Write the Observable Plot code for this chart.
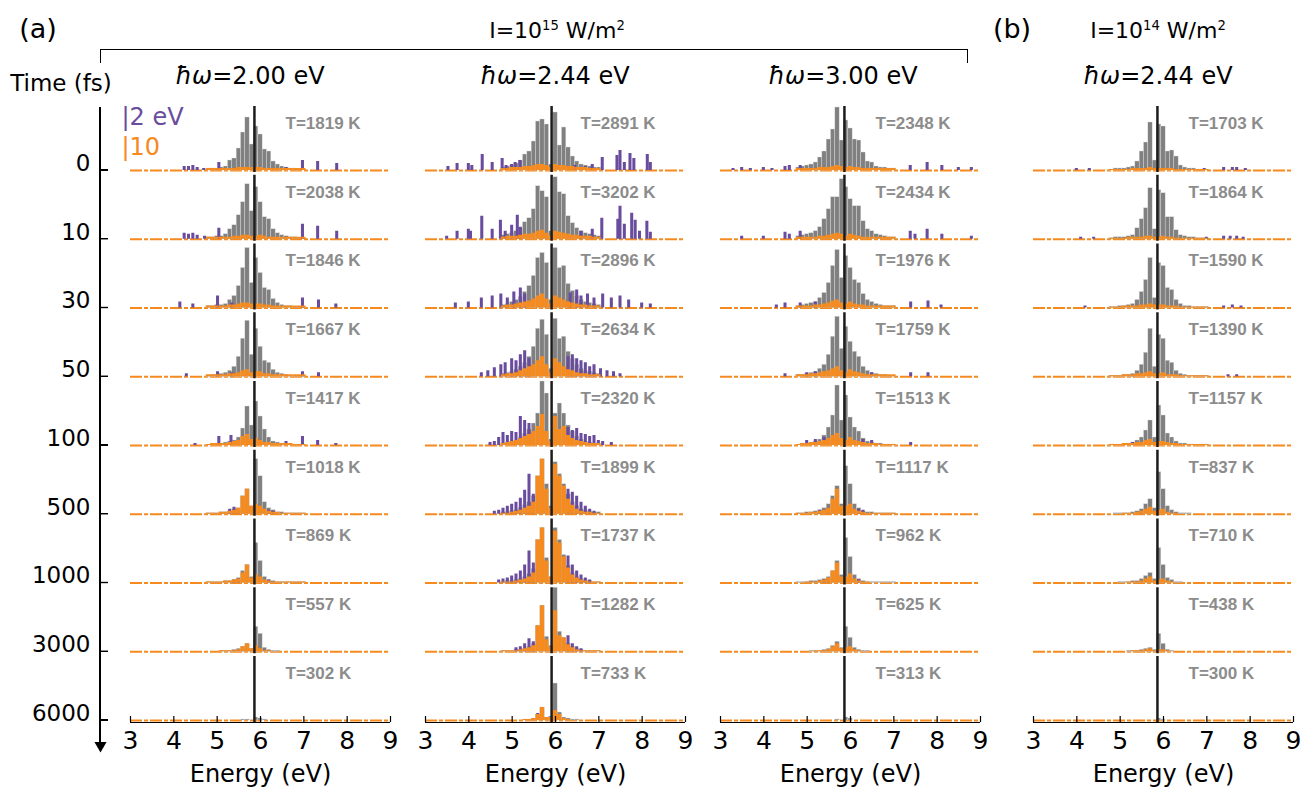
<!DOCTYPE html>
<html><head><meta charset="utf-8">
<script src="https://cdn.jsdelivr.net/npm/d3@7"></script>
<script src="https://cdn.jsdelivr.net/npm/@observablehq/plot@0.6"></script>
<style>
body{margin:0;background:#fff;}
#fig{position:relative;width:1314px;height:789px;font-family:"DejaVu Sans",sans-serif;color:#000;overflow:hidden;background:#fff}
#fig svg{position:absolute;left:0;top:0}
.t{position:absolute;white-space:nowrap;line-height:1;transform:translate(-50%,-50%)}
.t sup{font-size:60%;vertical-align:0.6em;line-height:0}
.br{position:absolute;border:1.2px solid #000;border-bottom:none}
.ax{position:absolute;background:#000}
</style></head><body><div id="fig"></div><script>
// ---------- data ----------
const times = ["0","10","30","50","100","500","1000","3000","6000"];
const energyTicks = [3,4,5,6,7,8,9];
const binCenters = [4.8,4.9,5.0,5.1,5.2,5.3,5.4,5.5,5.6,5.7,5.8,5.9,6.0,6.1,6.2,6.3,6.4,6.5,6.6,6.7,6.8,6.9,7.0];
const columnTitles = ["2.00","2.44","3.00","2.44"];
const fermi = [5.86, 5.91, 5.86, 5.86];

const temps1 = [1819,2038,1846,1667,1417,1018,869,557,302];
const temps2 = [2891,3202,2896,2634,2320,1899,1737,1282,733];
const temps3 = [2348,2434,1976,1759,1513,1117,962,625,313];
const temps4 = [1703,1864,1590,1390,1157,837,710,438,300];

const gray1 = [
 [2,2,2,3,4,10,12,22,38,53,26,44,36,21,19,9,6,4,3,2,2,1,1],
 [2,2,3,3,5,10,14,24,37,55,28,52,37,22,20,10,6,4,3,2,2,1,1],
 [2,2,3,3,4,8,12,22,40,60,25,50,35,20,18,9,5,3,2,2,1,1,1],
 [1,2,2,3,4,6,10,20,38,56,22,48,30,16,14,7,4,3,2,1,1,1,1],
 [1,1,2,2,3,4,5,8,17,39,20,44,29,16,8,4,3,2,2,1,1,1,1],
 [1,1,1,2,2,3,5,6,18,25,8,55,38,12,6,4,2,2,1,1,1,1,1],
 [1,1,1,1,2,2,3,5,12,18,6,40,22,6,3,2,1,1,1,1,1,1,1],
 [0,0,0,1,1,1,2,3,5,8,3,25,18,4,2,1,1,0,0,0,0,0,0],
 [0,0,0,0,0,0,0,0,1,1,0,3,2,1,0,0,0,0,0,0,0,0,0]];
const orange1 = [
 [2,2,2,2,2,2,2,3,3,3,3,3,3,2,2,2,2,2,2,2,2,2,2],
 [2,2,2,2,2,2,3,3,4,4,3,3,4,3,2,2,2,2,2,2,2,2,2],
 [2,2,2,2,2,3,3,4,5,5,4,4,4,3,3,2,2,2,2,2,2,2,2],
 [2,2,2,2,2,3,3,4,6,7,4,5,5,3,3,2,2,2,2,2,2,2,2],
 [1,2,2,2,2,3,4,5,9,11,6,7,5,3,3,2,2,2,2,2,1,1,1],
 [1,1,1,2,2,3,4,6,18,25,8,10,8,5,3,2,2,1,1,1,1,1,1],
 [1,1,1,1,2,2,3,4,10,18,5,8,6,3,2,1,1,1,1,1,1,1,1],
 [0,0,0,1,1,1,1,2,5,8,3,6,3,1,1,0,0,0,0,0,0,0,0],
 [0,0,0,0,0,0,0,0,0,0,0,0,0,0,0,0,0,0,0,0,0,0,0]];
const purple1 = [
 [[4.25,4],[4.35,4],[4.45,5],[4.55,3],[4.7,2],[5.05,8],[6.6,3],[6.98,10],[7.33,9],[7.77,7]],
 [[4.25,6],[4.35,5],[4.45,6],[4.55,4],[4.72,3],[5.05,11],[6.98,15],[7.33,13],[7.77,8]],
 [[4.15,6],[4.45,4],[5.02,12],[5.35,5],[6.98,10],[7.35,8],[7.75,4]],
 [[4.3,3],[5.02,5],[5.35,4],[6.98,5],[7.35,4]],
 [[4.5,2],[5.05,9],[5.33,10],[6.6,4],[6.98,9],[7.33,5],[7.75,2]],
 [[5.3,5],[5.4,7],[5.5,5],[6.2,4],[6.3,3]],
 [[5.4,3],[5.5,4],[6.2,3]],
 [],
 []];

const gray2 = [
 [3,4,5,7,10,16,19,29,49,51,46,6,58,25,43,23,14,9,6,5,4,3,3],
 [4,5,6,8,11,17,21,30,53,48,42,8,62,47,45,23,16,11,8,6,5,4,3],
 [3,4,6,8,11,16,22,32,50,55,45,8,60,40,42,24,17,12,8,6,5,4,3],
 [3,4,5,7,10,14,20,30,48,57,42,8,58,38,40,25,18,12,8,6,5,4,3],
 [2,3,4,5,8,12,16,22,32,64,52,6,32,42,32,20,14,9,6,4,3,2,2],
 [2,2,3,4,6,9,12,18,38,55,30,8,52,40,30,20,12,8,5,4,3,2,2],
 [1,2,2,3,4,6,9,14,43,55,25,6,55,43,28,17,10,6,4,3,2,1,1],
 [1,1,1,2,2,3,5,8,26,46,15,6,64,20,14,8,5,3,2,1,1,1,1],
 [0,0,0,0,0,1,1,2,6,13,3,4,37,8,3,2,1,1,0,0,0,0,0]];
const orange2 = [
 [2,2,3,3,3,4,4,5,6,6,5,3,6,5,5,4,4,3,3,3,2,2,2],
 [2,3,3,3,4,5,5,6,8,9,6,3,8,7,6,5,4,4,3,3,3,2,2],
 [2,3,3,4,5,6,7,9,12,14,9,4,12,10,8,6,5,4,3,3,2,2,2],
 [2,3,3,4,6,8,10,12,16,20,12,4,18,14,10,7,6,4,3,3,2,2,2],
 [2,3,4,5,7,9,11,14,19,31,14,4,29,16,19,10,7,5,4,3,2,2,2],
 [1,1,2,3,4,6,8,12,38,55,25,6,50,38,28,15,9,5,3,2,2,1,1],
 [1,1,1,2,3,4,6,10,43,55,22,6,52,40,26,15,8,5,3,2,1,1,1],
 [1,1,1,1,2,3,4,6,26,46,12,5,41,16,14,7,4,2,1,1,1,1,1],
 [0,0,0,0,0,1,1,2,6,13,3,3,10,6,2,1,0,0,0,0,0,0,0]];
const purple2 = [
 [[3.53,4],[3.74,7],[4.0,7],[4.08,5],[4.32,16],[4.55,8],[4.78,12],[4.87,5],[5.0,6],[5.08,8],[5.19,10],[6.45,5],[6.7,4],[6.86,6],[7.09,13],[7.43,15],[7.5,20],[7.6,8],[7.73,17],[7.82,12],[8.13,16],[8.2,8]],
 [[3.5,3],[3.74,8],[4.0,10],[4.05,8],[4.31,23],[4.55,10],[4.74,19],[4.85,8],[5.0,14],[5.13,24],[5.2,12],[6.6,8],[6.86,10],[7.08,21],[7.45,20],[7.5,33],[7.6,15],[7.77,26],[7.85,19],[7.95,8],[8.12,18],[8.2,7]],
 [[3.7,5],[4.0,6],[4.3,10],[4.55,12],[4.75,14],[4.9,10],[5.05,16],[5.2,20],[5.3,14],[6.35,15],[6.5,18],[6.6,12],[6.75,14],[6.9,10],[7.1,14],[7.3,10],[7.5,12],[7.7,8],[8.0,5],[8.2,4]],
 [[4.3,4],[4.45,6],[4.6,9],[4.75,12],[4.85,14],[5.0,18],[5.1,16],[5.2,22],[5.3,26],[5.4,18],[6.3,20],[6.4,22],[6.5,18],[6.6,16],[6.7,14],[6.8,10],[6.9,12],[7.05,8],[7.2,6],[7.35,5],[7.5,3]],
 [[4.5,3],[4.6,4],[4.7,8],[4.8,13],[4.9,10],[5.0,14],[5.1,13],[5.2,29],[5.3,25],[5.4,22],[6.3,18],[6.4,15],[6.5,17],[6.6,12],[6.7,11],[6.8,9],[6.9,10],[7.0,5],[7.1,4],[7.3,3]],
 [[4.6,3],[4.7,4],[4.8,6],[4.9,8],[5.0,10],[5.1,12],[5.2,16],[5.3,24],[5.4,40],[5.5,20],[6.3,25],[6.4,22],[6.5,18],[6.6,12],[6.7,8],[6.8,5],[6.9,3]],
 [[4.7,3],[4.8,4],[4.9,5],[5.0,7],[5.1,9],[5.2,12],[5.3,18],[5.4,32],[5.5,20],[6.3,27],[6.4,18],[6.5,12],[6.6,8],[6.7,5],[6.8,3]],
 [[5.1,4],[5.2,5],[5.3,8],[5.4,13],[5.5,10],[6.3,16],[6.4,8],[6.5,5],[6.6,3]],
 [[5.6,7],[6.1,4]]];

const gray3 = [
 [3,4,5,6,8,13,19,31,41,63,30,50,42,31,30,18,9,8,4,3,3,2,2],
 [3,4,5,6,8,12,20,30,42,42,60,52,40,33,33,18,10,8,5,4,3,2,2],
 [2,3,4,5,6,10,15,25,42,58,30,52,40,28,25,14,8,6,4,3,2,2,2],
 [2,2,3,4,5,8,12,22,40,60,28,50,35,25,20,10,6,4,3,2,2,1,1],
 [1,2,2,3,4,6,10,18,30,60,25,50,28,18,14,7,4,3,2,2,1,1,1],
 [1,1,2,2,3,4,6,10,18,28,10,48,30,10,6,3,2,2,1,1,1,1,1],
 [1,1,1,2,2,3,4,6,12,22,8,45,26,8,4,2,1,1,1,1,1,1,1],
 [0,0,0,1,1,1,2,3,6,10,4,25,14,4,2,1,1,0,0,0,0,0,0],
 [0,0,0,0,0,0,0,0,0,1,0,3,2,0,0,0,0,0,0,0,0,0,0]];
const orange3 = [
 [2,2,2,2,2,3,3,3,4,5,4,3,4,3,3,2,2,2,2,2,2,2,2],
 [2,2,2,2,2,3,3,4,5,6,5,3,5,4,3,2,2,2,2,2,2,2,2],
 [2,2,2,2,3,3,4,5,7,8,5,4,6,4,3,3,2,2,2,2,2,2,2],
 [2,2,2,3,3,4,5,6,8,10,6,4,7,5,4,3,2,2,2,2,2,2,2],
 [1,2,2,3,3,4,5,7,10,12,7,5,8,5,4,3,2,2,2,1,1,1,1],
 [1,1,1,2,2,3,4,6,15,25,8,8,10,5,3,2,1,1,1,1,1,1,1],
 [0,0,1,1,1,2,3,5,12,20,6,6,9,4,2,1,1,0,0,0,0,0,0],
 [0,0,0,0,1,1,1,2,5,8,3,4,5,2,1,0,0,0,0,0,0,0,0],
 [0,0,0,0,0,0,0,0,0,0,0,0,0,0,0,0,0,0,0,0,0,0,0]];
const purple3 = [
 [[3.3,2],[3.5,3],[3.7,2],[4.0,3],[4.2,2],[4.5,4],[4.6,5],[4.85,5],[7.0,2],[7.39,5],[7.78,8],[8.12,5],[8.5,3],[8.8,3]],
 [[3.5,3],[4.0,3],[4.5,7],[4.6,5],[4.85,8],[7.39,8],[7.5,5],[7.78,10],[8.12,5],[8.8,3]],
 [[4.3,3],[4.5,5],[4.85,5],[5.2,6],[7.4,6],[7.8,7],[8.1,3]],
 [[4.5,3],[5.0,4],[5.2,5],[6.5,4],[7.4,4],[7.8,4]],
 [[5.0,5],[5.2,6],[5.4,8],[6.3,6],[6.5,5],[7.4,3]],
 [[5.3,4],[5.5,6],[6.2,5],[6.3,4]],
 [[5.4,3],[5.5,4],[6.2,3]],
 [],
 []];

const gray4 = [
 [1,2,2,2,3,4,9,19,28,48,10,46,44,19,20,14,5,3,2,2,1,1,1],
 [1,2,2,2,3,4,11,20,31,51,10,49,46,22,22,9,4,3,2,2,1,1,1],
 [1,1,2,2,3,4,8,16,28,50,10,45,42,20,18,8,4,2,2,1,1,1,1],
 [1,1,1,2,2,3,6,12,24,48,10,42,38,16,14,6,3,2,1,1,1,1,1],
 [1,1,1,1,2,3,5,8,15,25,8,40,30,12,8,4,2,2,1,1,1,1,1],
 [0,1,1,1,1,2,3,5,10,15,6,42,25,8,4,2,1,1,1,0,0,0,0],
 [0,0,1,1,1,2,2,4,7,10,4,35,18,5,3,1,1,0,0,0,0,0,0],
 [0,0,0,0,1,1,1,2,3,4,2,18,8,2,1,0,0,0,0,0,0,0,0],
 [0,0,0,0,0,0,0,0,0,0,0,2,1,0,0,0,0,0,0,0,0,0,0]];
const orange4 = [
 [1,1,1,1,1,2,2,2,2,3,2,2,2,2,2,1,1,1,1,1,1,1,1],
 [1,1,1,1,2,2,2,2,3,3,2,2,3,2,2,1,1,1,1,1,1,1,1],
 [1,1,1,2,2,2,2,3,3,4,3,3,3,2,2,2,1,1,1,1,1,1,1],
 [1,1,1,2,2,2,3,3,4,5,3,3,4,2,2,2,1,1,1,1,1,1,1],
 [1,1,1,2,2,2,3,3,5,6,3,4,4,3,2,2,1,1,1,1,1,1,1],
 [0,0,0,1,1,1,2,3,5,7,3,4,5,2,1,1,0,0,0,0,0,0,0],
 [0,0,0,0,1,1,1,2,4,6,2,3,4,2,1,0,0,0,0,0,0,0,0],
 [0,0,0,0,0,1,1,1,2,3,1,2,2,1,0,0,0,0,0,0,0,0,0],
 [0,0,0,0,0,0,0,0,0,0,0,0,0,0,0,0,0,0,0,0,0,0,0]];
const purple4 = [
 [[4.0,2],[4.3,2],[6.95,2],[7.4,3],[7.6,3],[7.7,3],[7.9,2]],
 [[4.1,2],[4.4,2],[7.0,2],[7.4,3],[7.55,3],[7.7,3],[7.85,2]],
 [[4.2,2],[7.4,2],[7.6,3],[7.8,2]],
 [[5.3,2],[7.5,2],[7.7,2]],
 [[5.3,3],[5.5,3],[6.3,2]],
 [[5.5,2]],
 [], [], []];

// ---------- styling / layout ----------
const GRAY = "#808080", PURPLE = "#6a4c9e", ORANGE = "#f58a1f", TGRAY = "#8c8c8c";
const W = 1314, H = 789;
const colRange = [[130, 390], [425, 685], [720, 980], [1033, 1293]];
const columns = [
  {temps: temps1, gray: gray1, orange: orange1, purple: purple1},
  {temps: temps2, gray: gray2, orange: orange2, purple: purple2},
  {temps: temps3, gray: gray3, orange: orange3, purple: purple3},
  {temps: temps4, gray: gray4, orange: orange4, purple: purple4}
];
const fig = document.getElementById("fig");
const baseStyle = {background: "none", overflow: "visible", fontFamily: "DejaVu Sans, sans-serif", color: "#000"};
const PAD = 0.069;

function binTable(rows) {
  const out = [];
  rows.forEach((vals, r) => vals.forEach((v, i) => { if (v > 0) out.push({t: times[r], e: binCenters[i], v}); }));
  return out;
}
function spikeTable(rows) {
  const out = [];
  rows.forEach((list, r) => list.forEach(([e, v]) => out.push({t: times[r], e, v})));
  return out;
}

columns.forEach((col, ci) => {
  const [x0, x1] = colRange[ci];
  const grayT = binTable(col.gray), orangeT = binTable(col.orange), purpleT = spikeTable(col.purple);
  const labels = col.temps.map((T, r) => ({t: times[r], label: `T=${T} K`}));
  const last = times[times.length - 1];
  const marks = [
    Plot.ruleY([0], {stroke: ORANGE, strokeWidth: 2, strokeDasharray: "12,2,4,2"}),
    Plot.rectY(grayT, {x1: d => d.e - 0.05, x2: d => d.e + 0.05, y: "v", fy: "t", fill: GRAY, stroke: "#ddd", strokeWidth: 0.4}),
    Plot.rectY(purpleT, {x1: d => d.e - 0.035, x2: d => d.e + 0.035, y: "v", fy: "t", fill: PURPLE}),
    Plot.rectY(orangeT, {x1: d => d.e - 0.05, x2: d => d.e + 0.05, y: "v", fy: "t", fill: ORANGE}),
    Plot.ruleX([fermi[ci]], {stroke: "#1c1c1c", strokeWidth: 2.5, insetBottom: -2}),
    Plot.text(labels, {fy: "t", text: "label", frameAnchor: "top-left", textAnchor: "start", lineAnchor: "middle",
      dx: 155, dy: 17, fill: TGRAY, fontWeight: "bold", fontSize: 17, fontFamily: "Liberation Sans, Arial, sans-serif"}),
    Plot.ruleY([last], {y: () => 0, fy: d => d, dy: 2, stroke: "#000", strokeWidth: 1.2}),
    Plot.tickX(energyTicks, {x: d => d, fy: () => last, insetTop: 58, dy: 2, stroke: "#000", strokeWidth: 1.2}),
    Plot.axisX(energyTicks, {tickSize: 0, tickPadding: 11, fontSize: 25, label: null, tickFormat: d => String(d)}),
    Plot.text([last], {fy: d => d, text: () => "Energy (eV)", frameAnchor: "bottom", lineAnchor: "middle", dy: 54, fontSize: 24})
  ];
  if (ci === 0) {
    marks.push(Plot.text([times[0]], {fy: d => d, text: () => "|2 eV", frameAnchor: "top-left", textAnchor: "start", lineAnchor: "middle", dx: -9, dy: 11, fontSize: 24, fill: PURPLE}));
    marks.push(Plot.text([times[0]], {fy: d => d, text: () => "|10", frameAnchor: "top-left", textAnchor: "start", lineAnchor: "middle", dx: -9, dy: 41, fontSize: 24, fill: ORANGE}));
  }
  const svg = Plot.plot({
    width: W, height: H,
    marginLeft: x0, marginRight: W - x1, marginTop: 101.25, marginBottom: 64.25,
    x: {domain: [3, 9]},
    y: {domain: [0, 64], axis: null},
    fy: {domain: times, padding: PAD, paddingInner: PAD, paddingOuter: PAD, round: false, axis: null, label: null},
    style: baseStyle,
    marks
  });
  fig.appendChild(svg);
});

// time axis (left): rows placed by index on a linear scale
const rowIndex = times.map((t, i) => i);
const lastRow = times.length - 1;
const timeAxis = Plot.plot({
  width: 131, height: H, marginLeft: 100, marginRight: 23, marginTop: 107, marginBottom: 47,
  x: {domain: [0, 1], range: [100, 108], axis: null},
  y: {domain: [0, lastRow], range: [170, 720], axis: null},
  style: baseStyle,
  marks: [
    Plot.rect([lastRow], {x1: () => 0, x2: () => 0, y1: () => 0, y2: d => d,
      insetLeft: -0.7, insetRight: -0.7, insetTop: -63, insetBottom: -22, fill: "#000"}),
    Plot.rect(rowIndex, {x1: () => 0, x2: () => 1, y1: d => d, y2: d => d,
      insetTop: -0.7, insetBottom: -0.7, fill: "#000"}),
    Plot.dot([lastRow], {x: () => 0, y: d => d, symbol: "triangle", r: 4.5, rotate: 180, fill: "#000", stroke: null, dy: 25}),
    Plot.text(rowIndex, {x: () => 0, y: d => d, text: d => times[d], textAnchor: "end", dx: -10, dy: -7, fontSize: 23})
  ]
});
fig.appendChild(timeAxis);

// axis line and ticks, also placed from the time axis' own scales (HTML overlay for crisp rendering)
(function () {
  let ys, xs;
  try { ys = timeAxis.scale("y"); xs = timeAxis.scale("x"); } catch (e) {}
  const yOf = i => (ys && ys.apply) ? ys.apply(i) : 170 + i * (550 / lastRow);
  const xOf = v => (xs && xs.apply) ? xs.apply(v) : 100 + 8 * v;
  const xAxis = xOf(0), xTick = xOf(1);
  const line = document.createElement("div");
  line.className = "ax";
  Object.assign(line.style, {left: (xAxis - 0.7) + "px", top: (yOf(0) - 63) + "px", width: "1.4px", height: (yOf(lastRow) - yOf(0) + 85) + "px"});
  fig.appendChild(line);
  rowIndex.forEach(i => {
    const tk = document.createElement("div");
    tk.className = "ax";
    Object.assign(tk.style, {left: xAxis + "px", top: (yOf(i) - 0.7) + "px", width: (xTick - xAxis) + "px", height: "1.4px"});
    fig.appendChild(tk);
  });
})();

// header texts
function addText(html, x, y, size) {
  const d = document.createElement("div");
  d.className = "t"; d.innerHTML = html;
  d.style.left = x + "px"; d.style.top = y + "px"; d.style.fontSize = size + "px";
  fig.appendChild(d);
}
addText("(a)", 38, 28, 27);
addText("(b)", 1012, 28, 27);
addText("I=10<sup>15</sup> W/m<sup>2</sup>", 557, 31, 22);
addText("I=10<sup>14</sup> W/m<sup>2</sup>", 1158, 31, 22);
addText("Time (fs)", 61, 83, 23);
const centers = [250, 555, 843, 1158];
columnTitles.forEach((t, i) => addText(`<i>ħω</i>=${t} eV`, centers[i], 76, 24));
const br = document.createElement("div");
br.className = "br";
Object.assign(br.style, {left: "100px", top: "49px", width: "866px", height: "13px"});
fig.appendChild(br);
</script></body></html>
